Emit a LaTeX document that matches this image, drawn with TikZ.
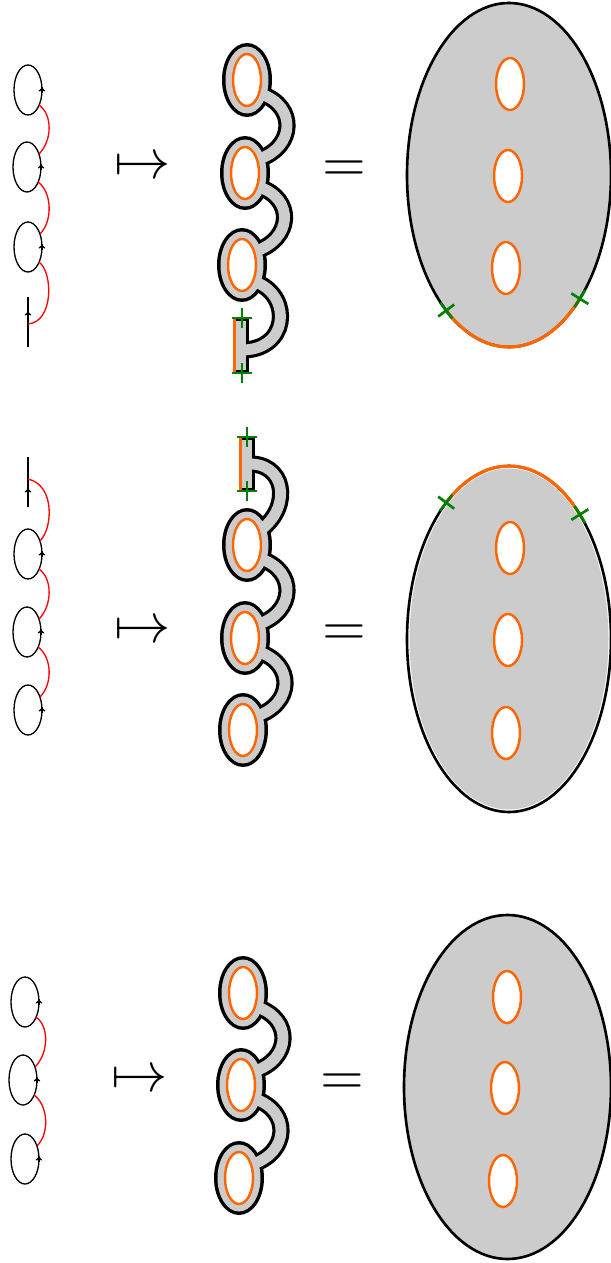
\documentclass[tikz,border=0pt]{standalone}
\usepackage{tikz}
\usetikzlibrary{calc, shapes, arrows, arrows.meta}
\usepackage{color}
\usepackage{amssymb}
\definecolor{holeorange}{RGB}{255,102,0}
\definecolor{tickgreen}{RGB}{0,128,0}
\definecolor{surfgray}{RGB}{204,204,204}

\begin{document}
\begin{tikzpicture}[x=0.02cm, y=-0.02cm,
 strand/.style={line width=0.75pt},
 flowtip/.style={-{To[length=2.6pt,width=3.8pt]}},
 redstrand/.style={red, line width=0.75pt},
 rimband/.style={line width=9.8pt},
 grayband/.style={surfgray, line width=6.2pt},
 hole/.style={draw=holeorange, fill=white, line width=1.4pt},
 cutedge/.style={holeorange, line width=1.8pt},
 bigrim/.style={line width=1.5pt},
 tickline/.style={tickgreen, line width=1.5pt},
 bigsym/.style={scale=3.2, inner sep=0pt},
 gtick/.pic={\draw[tickline] (-10,0) -- (10,0) (0,-10) -- (0,10);}]
\newcommand{\circlestrand}[1]{
\draw[strand] (#1) ellipse [x radius=14, y radius=25];
\draw[strand,flowtip] ($(#1)+(14,3)$) -- ($(#1)+(14,-3)$);
}\newcommand{\redlink}[2]{
\draw[redstrand] ($(#1)+(11,15)$) .. controls ($(#1)+(25,25)$) and ($(#2)+(25,-26)$) .. ($(#2)+(12,-13)$);
}\newcommand{\rimloop}[1]{
\fill (#1) ellipse [x radius=25, y radius=37];
}\newcommand{\grayloop}[1]{
\fill[surfgray] (#1) ellipse [x radius=21.5, y radius=33.5];
}\newcommand{\holeloop}[1]{
\draw[hole] (#1) ellipse [x radius=14, y radius=26];
}\newcommand{\bandlink}[3]{
\draw[#1] ($(#2)+(14,14)$) .. controls ($(#2)+(50,26)$) and ($(#3)+(50,-26)$) .. ($(#3)+(14,-14)$);
}%Page
\useasboundingbox (0,0) rectangle (611,1263);

%%%%% Upper row
%Strands
\coordinate (cA1) at (28,90);
\coordinate (cA2) at (27,167);
\coordinate (cA3) at (28,247);
\coordinate (lineAtop) at (28,297);
\coordinate (lineAbot) at (28,347);
\coordinate (lineAfoot) at (28,324);
\foreach \c in {cA1,cA2,cA3} {\circlestrand{\c}}
\draw[strand] (lineAtop) -- (lineAbot);
\draw[strand,flowtip] (28,318) -- (28,311);
\redlink{cA1}{cA2}
\redlink{cA2}{cA3}
\draw[redstrand] ($(cA3)+(11,15)$) .. controls ($(cA3)+(25,25)$) and ($(lineAfoot)+(26,-2)$) .. (lineAfoot);
%Symbols
\node[bigsym] (mapsA) at (143,168) {$\mapsto$};
\node[bigsym] (eqA) at (344,171) {$=$};
%Surface with bands
\coordinate (mA1) at (247,80);
\coordinate (mA2) at (245,173);
\coordinate (mA3) at (242,265);
\coordinate (portA) at (242,350);
\foreach \m in {mA1,mA2,mA3} {\rimloop{\m}}
\fill (233,318) rectangle (249,373);
\bandlink{rimband}{mA1}{mA2}
\bandlink{rimband}{mA2}{mA3}
\draw[rimband] ($(mA3)+(16,18)$) .. controls (292,298) and (288,350) .. (portA);
\foreach \m in {mA1,mA2,mA3} {\grayloop{\m}}
\fill[surfgray] (236,321) rectangle (246,370);
\bandlink{grayband}{mA1}{mA2}
\bandlink{grayband}{mA2}{mA3}
\draw[grayband] ($(mA3)+(16,18)$) .. controls (292,298) and (288,350) .. (portA);
\foreach \m in {mA1,mA2,mA3} {\holeloop{\m}}
\draw[cutedge] (234.5,318) -- (234.5,373);
\pic at (242,318) {gtick};
\pic at (242,373) {gtick};
%Disc
\coordinate (bigA) at (509,175);
\fill[surfgray] (bigA) ellipse [x radius=102, y radius=172];
\draw[bigrim] (bigA) ellipse [x radius=102, y radius=172];
\draw[cutedge] ($(bigA)+(46:102 and 172)$) arc [start angle=46, end angle=128, x radius=102, y radius=172];
\draw[hole] (510,84) ellipse [x radius=14, y radius=26];
\draw[hole] (508,176) ellipse [x radius=14, y radius=26];
\draw[hole] (506,268) ellipse [x radius=14, y radius=26];
\pic[rotate=37] at ($(bigA)+(128:102 and 172)$) {gtick};
\pic[rotate=58] at ($(bigA)+(46:102 and 172)$) {gtick};

%%%%% Middle row
%Strands
\coordinate (cB1) at (28,554);
\coordinate (cB2) at (27,632);
\coordinate (cB3) at (28,710);
\coordinate (lineBtop) at (28,457);
\coordinate (lineBbot) at (28,507);
\coordinate (lineBhead) at (28,479);
\foreach \c in {cB1,cB2,cB3} {\circlestrand{\c}}
\draw[strand] (lineBtop) -- (lineBbot);
\draw[strand,flowtip] (28,494) -- (28,488);
\draw[redstrand] (lineBhead) .. controls ($(lineBhead)+(27,6)$) and ($(cB1)+(25,-26)$) .. ($(cB1)+(12,-13)$);
\redlink{cB1}{cB2}
\redlink{cB2}{cB3}
%Symbols
\node[bigsym] (mapsB) at (143,632) {$\mapsto$};
\node[bigsym] (eqB) at (344,635) {$=$};
%Surface with bands
\coordinate (mB1) at (247,545);
\coordinate (mB2) at (245,638);
\coordinate (mB3) at (243,730);
\coordinate (portB) at (247,464);
\foreach \m in {mB1,mB2,mB3} {\rimloop{\m}}
\fill (239,437) rectangle (255,491);
\draw[rimband] (portB) .. controls (285,462) and (292,505) .. ($(mB1)+(15,-16)$);
\bandlink{rimband}{mB1}{mB2}
\bandlink{rimband}{mB2}{mB3}
\foreach \m in {mB1,mB2,mB3} {\grayloop{\m}}
\fill[surfgray] (242,440) rectangle (252,488);
\draw[grayband] (portB) .. controls (285,462) and (292,505) .. ($(mB1)+(15,-16)$);
\bandlink{grayband}{mB1}{mB2}
\bandlink{grayband}{mB2}{mB3}
\foreach \m in {mB1,mB2,mB3} {\holeloop{\m}}
\draw[cutedge] (240.5,437) -- (240.5,491);
\pic at (247,437) {gtick};
\pic at (247,491) {gtick};
%Disc
\coordinate (bigB) at (509,639);
\fill[surfgray] (bigB) ellipse [x radius=99.5, y radius=170.5];
\draw[bigrim] (bigB) ellipse [x radius=102, y radius=173];
\draw[cutedge] ($(bigB)+(-128:102 and 173)$) arc [start angle=-128, end angle=-46, x radius=102, y radius=173];
\draw[hole] (510,548) ellipse [x radius=14, y radius=26];
\draw[hole] (508,640) ellipse [x radius=14, y radius=26];
\draw[hole] (506,733) ellipse [x radius=14, y radius=26];
\pic[rotate=53] at ($(bigB)+(-128:102 and 173)$) {gtick};
\pic[rotate=-58] at ($(bigB)+(-46:102 and 173)$) {gtick};

%%%%% Lower row
%Strands
\coordinate (cC1) at (25,1002);
\coordinate (cC2) at (23,1080);
\coordinate (cC3) at (25,1159);
\foreach \c in {cC1,cC2,cC3} {\circlestrand{\c}}
\redlink{cC1}{cC2}
\redlink{cC2}{cC3}
%Symbols
\node[bigsym] (mapsC) at (140,1081) {$\mapsto$};
\node[bigsym] (eqC) at (342,1084) {$=$};
%Surface with bands
\coordinate (mC1) at (243,993);
\coordinate (mC2) at (241,1085);
\coordinate (mC3) at (239,1178);
\foreach \m in {mC1,mC2,mC3} {\rimloop{\m}}
\bandlink{rimband}{mC1}{mC2}
\bandlink{rimband}{mC2}{mC3}
\foreach \m in {mC1,mC2,mC3} {\grayloop{\m}}
\bandlink{grayband}{mC1}{mC2}
\bandlink{grayband}{mC2}{mC3}
\foreach \m in {mC1,mC2,mC3} {\holeloop{\m}}
%Disc
\coordinate (bigC) at (507.5,1087);
\fill[surfgray] (bigC) ellipse [x radius=103.5, y radius=172];
\draw[bigrim] (bigC) ellipse [x radius=103.5, y radius=172];
\draw[hole] (507,997) ellipse [x radius=14, y radius=26];
\draw[hole] (505,1088) ellipse [x radius=14, y radius=26];
\draw[hole] (503,1181) ellipse [x radius=14, y radius=26];
\end{tikzpicture}
\end{document}
